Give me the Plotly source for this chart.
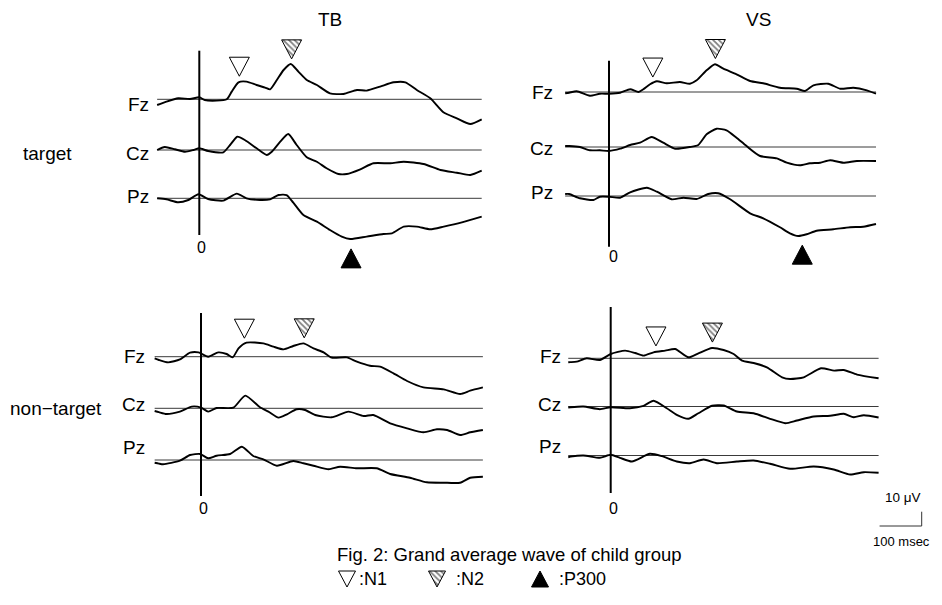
import numpy as np
import plotly.graph_objects as go

# ---------------- data (time in ms, amplitude in µV; negative plotted up) ----------------
TB_TGT_FZ_T = [-100,-78,-50,-22,0,13,41,65,77,93,112,136,156,168,184,200,217,235,255,279,310,342,374,397,429,461,489,516,548,580,611,643,670]
TB_TGT_FZ_V = [4.0,1.6,-0.7,-0.2,-1.4,0.5,0.9,0.0,-5.4,-11.9,-12.4,-10.0,-8.2,-7.0,-13.5,-20.5,-24.7,-19.4,-13.5,-10.0,-4.2,-3.7,-6.5,-6.1,-8.9,-11.9,-11.9,-6.5,-0.7,9.3,13.3,17.3,14.0]
TB_TGT_CZ_T = [-100,-82,-58,-34,-14,0,21,57,73,90,108,136,160,172,192,211,231,255,279,302,330,350,382,413,453,485,532,572,611,643,670]
TB_TGT_CZ_V = [0,-2.1,-0.5,1.2,0,-1.2,0.7,1.6,-3.5,-9.3,-7.0,-1.2,3.5,1.2,-5.8,-11.2,-3.5,5.1,8.2,12.8,16.8,16.8,13.5,9.3,9.3,8.2,9.8,14.0,15.9,17.5,14.5]
TB_TGT_PZ_T = [-100,-78,-50,-26,-2,21,57,89,112,144,168,188,207,223,247,279,310,338,358,397,437,457,485,516,548,580,623,670]
TB_TGT_PZ_V = [0,0.7,2.8,1.2,-2.8,0.5,1.6,-3.3,0,1.2,0.7,-2.3,-2.3,3.0,11.7,16.3,22.2,26.8,28.5,26.8,25.0,24.5,19.8,19.8,21.7,19.8,16.8,12.8]

VS_TGT_FZ_T = [-110,-100,-81,-48,-23,0,28,53,74,86,103,120,145,178,203,220,245,266,287,320,354,387,429,471,492,513,550,580,613,647,670]
VS_TGT_FZ_V = [0.9,0.5,-0.5,2.6,1.2,1.2,0.5,-1.9,0,-1.9,-5.4,-7.5,-6.1,-7.0,-5.8,-8.2,-15.2,-19.4,-16.3,-12.4,-7.7,-6.1,-3.0,-2.3,-0.7,-4.7,-5.8,-2.3,-3.0,-1.2,1.2]
VS_TGT_CZ_T = [-110,-100,-73,-48,-23,0,28,53,78,107,136,166,203,224,245,270,295,320,345,379,421,446,479,504,530,555,588,622,670]
VS_TGT_CZ_V = [-0.7,-0.7,0,2.3,2.3,2.8,1.2,-1.4,-3.0,-7.0,-3.0,1.2,0,-1.4,-8.9,-12.8,-11.7,-6.5,-0.7,6.3,7.9,11.0,12.8,11.4,11.0,9.3,11.0,9.8,9.8]
VS_TGT_PZ_T = [-110,-100,-73,-39,-23,0,28,53,95,120,157,187,220,249,274,304,354,387,429,454,475,496,521,563,605,638,670]
VS_TGT_PZ_V = [-1.4,-1.4,1.6,2.8,0.5,0.5,1.2,-2.6,-5.8,-3.0,2.3,1.2,2.1,-1.4,-1.9,2.3,12.1,15.6,21.9,26.1,28.0,26.8,24.3,23.3,21.9,21.5,19.6]

TB_NT_FZ_T = [-110,-100,-78,-50,-26,-6,17,41,61,75,89,108,148,172,196,219,243,267,291,310,346,370,401,425,457,489,528,576,615,639,669]
TB_NT_FZ_V = [1.2,2.3,4.0,1.9,-2.8,-3.0,0,-3.0,-1.9,0.5,-5.8,-9.8,-9.3,-7.0,-5.1,-7.5,-9.3,-5.8,-3.0,0.7,0.5,3.5,6.3,7.0,11.7,17.0,21.5,22.9,26.1,23.8,21.5]
TB_NT_CZ_T = [-110,-100,-82,-50,-22,0,17,37,77,105,140,160,184,204,227,247,271,310,350,386,409,449,489,528,560,584,615,639,669]
TB_NT_CZ_V = [1.9,2.7,4.0,2.3,-1.2,-0.5,2.3,-0.2,-0.5,-8.9,-0.7,2.3,6.5,4.2,0.7,1.2,4.7,6.3,2.3,5.4,4.7,10.5,14.0,16.8,14.7,15.2,18.7,16.8,15.2]
TB_NT_PZ_T = [-110,-100,-90,-50,-26,-2,17,37,69,97,124,148,180,219,243,267,303,330,370,417,449,496,536,576,615,639,669]
TB_NT_PZ_V = [1.9,2.5,3.0,0.5,-3.5,-4.2,-1.2,-3.0,-4.2,-9.3,-2.8,-0.5,4.0,0.7,2.3,4.0,6.5,4.7,5.8,5.8,9.8,12.4,15.6,15.9,15.9,12.4,11.7]

VS_NT_FZ_T = [-106,-100,-85,-60,-27,0,36,61,82,107,136,161,194,219,253,282,307,328,357,390,428,448,482,525,558,582,615,669]
VS_NT_FZ_V = [2.8,2.7,2.3,0,1.2,-3.0,-5.4,-3.7,-1.9,-4.2,-5.4,-6.5,-0.7,-3.5,-7.2,-5.8,-3.0,1.6,3.3,6.3,13.3,14.5,13.3,7.0,8.6,8.2,11.4,14.0]
VS_NT_CZ_T = [-106,-100,-68,-27,0,48,82,107,140,165,194,219,253,282,315,357,398,436,465,507,548,582,607,632,669]
VS_NT_CZ_V = [0.7,0.5,0,1.9,0.5,1.2,-0.5,-4.0,1.2,5.8,8.6,4.7,-0.5,-0.7,3.5,4.7,8.6,11.7,9.8,7.0,6.5,5.1,7.5,6.1,7.7]
VS_NT_PZ_T = [-106,-100,-68,-27,0,23,53,98,128,165,198,232,265,315,357,398,448,507,557,598,632,669]
VS_NT_PZ_V = [1.2,0.8,0,1.6,-0.5,1.6,4.2,-1.2,0.5,4.2,5.4,2.8,5.4,4.2,3.5,5.8,9.3,7.7,9.8,13.3,11.7,12.1]

CHANNELS = ["Fz", "Cz", "Pz"]
CONDITIONS = ["TB", "VS"]
ROWS = ["target", "non−target"]
# peak latencies (ms) marked with triangles: TB target, VS target, TB non-target, VS non-target
N1_LAT = [95, 110, 103, 113]
N2_LAT = [219, 267, 245, 254]
P300_LAT = [360, 485, None, None]

# ---------------- layout geometry (page pixels of a 942x605 window) ----------------
PAGE_W, PAGE_H = 942, 605
OFF = 8                       # default body margin of the html page
W, H = PAGE_W - OFF, PAGE_H - OFF
KY = 1 / 0.7                  # px per µV
PANELS = [
    dict(data=[(TB_TGT_FZ_T, TB_TGT_FZ_V), (TB_TGT_CZ_T, TB_TGT_CZ_V), (TB_TGT_PZ_T, TB_TGT_PZ_V)],
         zero=199.3, right=481.7, base=[99.3, 150.0, 198.3], ztop=50.7, zbot=235.0,
         zlab=(201.7, 247.7), lab_y=[104, 153, 197], lab_r=151),
    dict(data=[(VS_TGT_FZ_T, VS_TGT_FZ_V), (VS_TGT_CZ_T, VS_TGT_CZ_V), (VS_TGT_PZ_T, VS_TGT_PZ_V)],
         zero=609.0, right=876.0, base=[92.0, 147.0, 196.0], ztop=60.7, zbot=246.7,
         zlab=(613, 256), lab_y=[93, 148, 193], lab_r=555),
    dict(data=[(TB_NT_FZ_T, TB_NT_FZ_V), (TB_NT_CZ_T, TB_NT_CZ_V), (TB_NT_PZ_T, TB_NT_PZ_V)],
         zero=201.0, right=483.3, base=[356.7, 408.3, 460.0], ztop=313.0, zbot=496.0,
         zlab=(203, 508), lab_y=[356, 404, 447], lab_r=147),
    dict(data=[(VS_NT_FZ_T, VS_NT_FZ_V), (VS_NT_CZ_T, VS_NT_CZ_V), (VS_NT_PZ_T, VS_NT_PZ_V)],
         zero=610.7, right=879.0, base=[358.3, 406.5, 455.5], ztop=307.0, zbot=493.0,
         zlab=(613, 508), lab_y=[356, 404, 446], lab_r=563),
]
FONT = "Arial, Liberation Sans, sans-serif"

fig = go.Figure()
layout_axes = {}
annotations = []


def px_to_paper(x, y):
    return (x - OFF) / W, 1 - (y - OFF) / H


def tri_xy(t, y_tip, kx, w_px, h_px, pointing_down=True):
    dx = w_px / 2 / kx
    dh = h_px / KY
    if pointing_down:   # tip at bottom (larger y on reversed axis)
        return [t - dx, t + dx, t, t - dx], [y_tip - dh, y_tip - dh, y_tip, y_tip - dh]
    return [t, t + dx, t - dx, t], [y_tip, y_tip + dh, y_tip + dh, y_tip]


HATCH = dict(shape="\\", fgcolor="black", bgcolor="white", size=4, solidity=0.45)

for i, p in enumerate(PANELS):
    n = i + 1
    xa = "x" if n == 1 else f"x{n}"
    ya = "y" if n == 1 else f"y{n}"
    kx = (p["right"] - p["zero"]) / 670.0
    ref = p["base"][0]
    x_rng = [(OFF - p["zero"]) / kx, (PAGE_W - p["zero"]) / kx]
    y_rng = [(PAGE_H - ref) / KY, (OFF - ref) / KY]   # reversed: larger values lower
    layout_axes["xaxis" if n == 1 else f"xaxis{n}"] = dict(domain=[0, 1], range=x_rng, visible=False,
                                                         anchor=ya, fixedrange=True)
    layout_axes["yaxis" if n == 1 else f"yaxis{n}"] = dict(domain=[0, 1], range=y_rng, visible=False,
                                                         anchor=xa, fixedrange=True)
    shifts = [(b - ref) / KY for b in p["base"]]
    tmin = min(min(d[0]) for d in p["data"])
    tmax = max(max(d[0]) for d in p["data"])
    # baselines
    for s in shifts:
        fig.add_trace(go.Scatter(x=[tmin, tmax], y=[s, s], mode="lines", xaxis=xa, yaxis=ya,
                                 line=dict(color="#3a3a3a", width=1), hoverinfo="skip", showlegend=False))
    # zero (stimulus onset) line
    fig.add_trace(go.Scatter(x=[0, 0], y=[(p["ztop"] - ref) / KY, (p["zbot"] - ref) / KY], mode="lines",
                             xaxis=xa, yaxis=ya, line=dict(color="black", width=2),
                             hoverinfo="skip", showlegend=False))
    # waveforms
    for (t, v), s, ch in zip(p["data"], shifts, CHANNELS):
        fig.add_trace(go.Scatter(x=t, y=np.array(v) + s, mode="lines", xaxis=xa, yaxis=ya, name=ch,
                                 line=dict(color="black", width=1.9, shape="spline", smoothing=0.6),
                                 showlegend=False))
    # peak markers
    fz_t, fz_v = p["data"][0]
    for lat, hatched in ((N1_LAT[i], False), (N2_LAT[i], True)):
        y_tip = float(np.interp(lat, fz_t, fz_v)) - 6 / KY
        tx, ty = tri_xy(lat, y_tip, kx, 20, 19, True)
        extra = dict(fillpattern=HATCH) if hatched else dict(fillcolor="white")
        fig.add_trace(go.Scatter(x=tx, y=ty, mode="lines", fill="toself", xaxis=xa, yaxis=ya,
                                 line=dict(color="black", width=1), hoverinfo="skip", showlegend=False,
                                 **extra))
    if P300_LAT[i] is not None:
        pz_t, pz_v = p["data"][2]
        y_top = float(np.interp(P300_LAT[i], pz_t, pz_v)) + shifts[2] + 10 / KY
        tx, ty = tri_xy(P300_LAT[i], y_top, kx, 20, 19, False)
        fig.add_trace(go.Scatter(x=tx, y=ty, mode="lines", fill="toself", fillcolor="black",
                                 xaxis=xa, yaxis=ya, line=dict(color="black", width=1),
                                 hoverinfo="skip", showlegend=False))
    # channel labels
    for ch, ly in zip(CHANNELS, p["lab_y"]):
        px_, py_ = px_to_paper(p["lab_r"], ly)
        annotations.append(dict(x=px_, y=py_, xref="paper", yref="paper", text=ch, showarrow=False,
                                xanchor="right", yanchor="middle", font=dict(size=19, color="black", family=FONT)))
    # "0" label
    px_, py_ = px_to_paper(*p["zlab"])
    annotations.append(dict(x=px_, y=py_, xref="paper", yref="paper", text="0", showarrow=False,
                            xanchor="center", yanchor="middle", font=dict(size=16, color="black", family=FONT)))

# scale bar (100 ms x 10 µV) drawn in the data units of the TB non-target panel
p3 = PANELS[2]
kx3 = (p3["right"] - p3["zero"]) / 670.0
t_c = (921.7 - p3["zero"]) / kx3
y_c = (526.0 - p3["base"][0]) / KY
fig.add_trace(go.Scatter(x=[t_c - 100, t_c, t_c], y=[y_c, y_c, y_c - 10], mode="lines", xaxis="x3", yaxis="y3",
                         line=dict(color="#333333", width=1), hoverinfo="skip", showlegend=False))

# page-pixel canvas for the legend symbols
layout_axes["xaxis5"] = dict(domain=[0, 1], range=[OFF, PAGE_W], visible=False, anchor="y5", fixedrange=True)
layout_axes["yaxis5"] = dict(domain=[0, 1], range=[PAGE_H, OFF], visible=False, anchor="x5", fixedrange=True)


def canvas_tri(cx, cy, w, h, down=True):
    if down:
        return [cx - w / 2, cx + w / 2, cx, cx - w / 2], [cy - h / 2, cy - h / 2, cy + h / 2, cy - h / 2]
    return [cx, cx + w / 2, cx - w / 2, cx], [cy - h / 2, cy + h / 2, cy + h / 2, cy - h / 2]


LEG_Y = 579
for (cx, down, style) in ((347, True, dict(fillcolor="white")),
                          (437, True, dict(fillpattern=HATCH)),
                          (540, False, dict(fillcolor="black"))):
    lx, ly = canvas_tri(cx, LEG_Y, 17, 16, down)
    fig.add_trace(go.Scatter(x=lx, y=ly, mode="lines", fill="toself", xaxis="x5", yaxis="y5",
                             line=dict(color="black", width=1), hoverinfo="skip", showlegend=False, **style))


def add_text(text, x, y, size, xanchor="center"):
    px_, py_ = px_to_paper(x, y)
    annotations.append(dict(x=px_, y=py_, xref="paper", yref="paper", text=text, showarrow=False,
                            xanchor=xanchor, yanchor="middle", font=dict(size=size, color="black", family=FONT)))


add_text(CONDITIONS[0], 330, 19, 19)
add_text(CONDITIONS[1], 758, 19, 19)
add_text(ROWS[0], 21, 153, 19, "left")
add_text(ROWS[1], 8, 408, 19, "left")
add_text("10 μV", 903, 497, 13.5)
add_text("100 msec", 901, 541, 13)
add_text("Fig. 2: Grand average wave of child group", 335, 554, 18.5, "left")
add_text(":N1", 357, LEG_Y, 18, "left")
add_text(":N2", 454, LEG_Y, 18, "left")
add_text(":P300", 557, LEG_Y, 18, "left")

fig.update_layout(
    width=W, height=H, autosize=False,
    margin=dict(l=0, r=0, t=0, b=0),
    paper_bgcolor="white", plot_bgcolor="rgba(0,0,0,0)",
    showlegend=False, annotations=annotations,
    font=dict(family=FONT, color="black"),
    **layout_axes,
)
fig.write_html("out.html")
